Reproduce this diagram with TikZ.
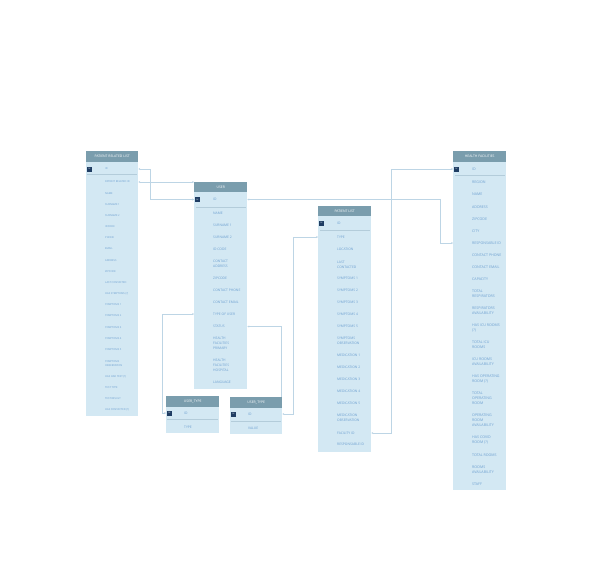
\documentclass[tikz,border=0pt]{standalone}
\usepackage{fontspec}
\setmainfont{Open Sans}
\usetikzlibrary{arrows.meta,calc}
\definecolor{headc}{HTML}{7A9DAD}
\definecolor{bodyc}{HTML}{D3E8F3}
\definecolor{txtc}{HTML}{6C9FD0}
\definecolor{pkc}{HTML}{1F3D63}
\definecolor{linec}{HTML}{BDD5E5}
\definecolor{sepc}{HTML}{B3CCDA}
\begin{document}
\begin{tikzpicture}[x=1pt,y=-1pt,
 head/.style={fill=headc,text=white,minimum width=53pt,minimum height=10.5pt,anchor=north west,inner sep=0pt,font=\fontsize{3.4}{4}\selectfont},
 tbody/.style={fill=bodyc,anchor=north west,inner sep=0pt,minimum width=53pt},
 pk/.style={fill=pkc,text=white,minimum size=5pt,inner sep=0pt,font=\fontsize{1.8}{2}\selectfont},
 field/.style={anchor=west,inner sep=0pt,text=txtc,align=left,font=\fontsize{3.35}{5}\selectfont},
 sfield/.style={field,font=\fontsize{2.6}{4.6}\selectfont},
 hfield/.style={field,font=\fontsize{3.6}{5}\selectfont},
 sep/.style={draw=sepc,line width=0.5pt},
 conn/.style={draw=linec,line width=0.6pt,arrows={Stealth[length=1.8pt,width=2pt]-Stealth[length=1.8pt,width=2pt]}},
 conn1/.style={draw=linec,line width=0.6pt,arrows={Stealth[length=1.8pt,width=2pt]-}}]
\useasboundingbox (0,0) rectangle (596,573);

% ---------- PATIENT RELATED LIST ----------
\node[tbody,minimum width=52pt,minimum height=254pt] (prlb) at (86,162) {};
\node[head,minimum width=52pt] (prlh) at (86,151) {PATIENT RELATED LIST};
\node[pk] (prlpk) at (89.5,169) {PK};
\node[sfield] (prlid) at (105,169) {ID};
\draw[sep] (87,174.5) -- (137,174.5);
\node[sfield] (prlprid) at (105,182) {PATIENT RELATED ID};
\node[sfield] (prl2) at (105,194) {NAME};
\node[sfield] (prl3) at (105,205) {SURNAME 1};
\node[sfield] (prl4) at (105,216) {SURNAME 2};
\node[sfield] (prl5) at (105,227) {IDCODE};
\node[sfield] (prl6) at (105,238) {PHONE};
\node[sfield] (prl7) at (105,249) {EMAIL};
\node[sfield] (prl8) at (105,260.5) {ADDRESS};
\node[sfield] (prl9) at (105,271.5) {ZIPCODE};
\node[sfield] (prl10) at (105,283) {LAST CONTACTED};
\node[sfield] (prl11) at (105,294) {HAS SYMPTOMS (?)};
\node[sfield] (prl12) at (105,305) {SYMPTOMS 1};
\node[sfield] (prl13) at (105,316) {SYMPTOMS 2};
\node[sfield] (prl14) at (105,328) {SYMPTOMS 3};
\node[sfield] (prl15) at (105,339) {SYMPTOMS 4};
\node[sfield] (prl16) at (105,350) {SYMPTOMS 5};
\node[sfield] (prl17) at (105,363.5) {SYMPTOMS\\OBSERVATION};
\node[sfield] (prl18) at (105,377) {HAS HAD TEST (?)};
\node[sfield] (prl19) at (105,388) {TEST TYPE};
\node[sfield] (prl20) at (105,399) {TEST RESULT};
\node[sfield] (prl21) at (105,410) {HAS CONTACTED (?)};

% ---------- USER ----------
\node[tbody,minimum height=197pt] (userb) at (194,192) {};
\node[head] (userh) at (194,181.5) {USER};
\node[pk] (userpk) at (197.5,199.5) {PK};
\node[field] (userid) at (213,199.5) {ID};
\draw[sep] (196,207) -- (246,207);
\node[field] (user2) at (213,213) {NAME};
\node[field] (user3) at (213,225) {SURNAME 1};
\node[field] (user4) at (213,237) {SURNAME 2};
\node[field] (user5) at (213,249) {ID CODE};
\node[field] (user6) at (213,263.5) {CONTACT\\ADDRESS};
\node[field] (user7) at (213,278) {ZIPCODE};
\node[field] (user8) at (213,290.5) {CONTACT PHONE};
\node[field] (user9) at (213,302) {CONTACT EMAIL};
\node[field] (usertou) at (213,314) {TYPE OF USER};
\node[field] (userstatus) at (213,326.5) {STATUS};
\node[field] (user12) at (213,343) {HEALTH\\FACILITIES\\PRIMARY};
\node[field] (user13) at (213,365) {HEALTH\\FACILITIES\\HOSPITAL};
\node[field] (user14) at (213,382) {LANGUAGE};

% ---------- USER_TYPE 1 ----------
\node[tbody,minimum height=27pt] (ut1b) at (166,406) {};
\node[head] (ut1h) at (166,396) {USER\_TYPE};
\node[pk] (ut1pk) at (169.5,413) {PK};
\node[field] (ut1id) at (184,413) {ID};
\draw[sep] (167,419.5) -- (218,419.5);
\node[field] (ut1type) at (184,427) {TYPE};

% ---------- USER_TYPE 2 ----------
\node[tbody,minimum width=52pt,minimum height=27pt] (ut2b) at (230,407) {};
\node[head,minimum width=52pt] (ut2h) at (230,397) {USER\_TYPE};
\node[pk] (ut2pk) at (233.5,414) {PK};
\node[field] (ut2id) at (248,414) {ID};
\draw[sep] (231,421) -- (281,421);
\node[field] (ut2val) at (248,428) {VALUE};

% ---------- PATIENT LIST ----------
\node[tbody,minimum height=236pt] (plb) at (318,215.5) {};
\node[head] (plh) at (318,205.5) {PATIENT LIST};
\node[pk] (plpk) at (321.5,223) {PK};
\node[field] (plid) at (337,223) {ID};
\draw[sep] (320,230.5) -- (370,230.5);
\node[field] (pltype) at (337,237) {TYPE};
\node[field] (pl3) at (337,249) {LOCATION};
\node[field] (pl4) at (337,264.5) {LAST\\CONTACTED};
\node[field] (pl5) at (337,278) {SYMPTOMS 1};
\node[field] (pl6) at (337,290) {SYMPTOMS 2};
\node[field] (pl7) at (337,302) {SYMPTOMS 3};
\node[field] (pl8) at (337,314) {SYMPTOMS 4};
\node[field] (pl9) at (337,326) {SYMPTOMS 5};
\node[field] (pl10) at (337,340.5) {SYMPTOMS\\OBSERVATION};
\node[field] (pl11) at (337,355) {MEDICATION 1};
\node[field] (pl12) at (337,367) {MEDICATION 2};
\node[field] (pl13) at (337,379) {MEDICATION 3};
\node[field] (pl14) at (337,391) {MEDICATION 4};
\node[field] (pl15) at (337,403.5) {MEDICATION 5};
\node[field] (pl16) at (337,418) {MEDICATION\\OBSERVATION};
\node[field] (plfac) at (337,433) {FACILITY ID};
\node[field] (pl18) at (337,444) {RESPONSABLE ID};

% ---------- HEALTH FACILITIES ----------
\node[tbody,minimum height=328pt] (hfb) at (453,161.5) {};
\node[head] (hfh) at (453,151) {HEALTH FACILITIES};
\node[pk] (hfpk) at (456.5,169) {PK};
\node[hfield] (hfid) at (472,169) {ID};
\draw[sep] (455,175.5) -- (505,175.5);
\node[hfield] (hf2) at (472,182) {REGION};
\node[hfield] (hf3) at (472,194.5) {NAME};
\node[hfield] (hf4) at (472,207) {ADDRESS};
\node[hfield] (hf5) at (472,219) {ZIPCODE};
\node[hfield] (hf6) at (472,231) {CITY};
\node[hfield] (hfresp) at (472,243) {RESPONSABLE ID};
\node[hfield] (hf8) at (472,255) {CONTACT PHONE};
\node[hfield] (hf9) at (472,267) {CONTACT EMAIL};
\node[hfield] (hf10) at (472,279) {CAPACITY};
\node[hfield] (hf11) at (472,293.5) {TOTAL\\RESPIRATORS};
\node[hfield] (hf12) at (472,310.5) {RESPIRATORS\\AVAILABILITY};
\node[hfield] (hf13) at (472,327.5) {HAS ICU ROOMS\\(?)};
\node[hfield] (hf14) at (472,344.5) {TOTAL ICU\\ROOMS};
\node[hfield] (hf15) at (472,361.5) {ICU ROOMS\\AVAILABILITY};
\node[hfield] (hf16) at (472,378.5) {HAS OPERATING\\ROOM (?)};
\node[hfield] (hf17) at (472,398) {TOTAL\\OPERATING\\ROOM};
\node[hfield] (hf18) at (472,420) {OPERATING\\ROOM\\AVAILABILITY};
\node[hfield] (hf19) at (472,440) {HAS COVID\\ROOM (?)};
\node[hfield] (hf20) at (472,455) {TOTAL ROOMS};
\node[hfield] (hf21) at (472,469.5) {ROOMS\\AVAILABILITY};
\node[hfield] (hf22) at (472,484) {STAFF};

% ---------- connectors ----------
\draw[conn] (prlb.east |- prlid) -- ++(11.5,0) |- (userb.west |- userid);
\draw[conn] (prlb.east |- prlprid) -- (userh.west |- prlprid);
\draw[conn] (userb.east |- userid) -- ($(hfb.west |- userid)+(-13,0)$) |- (hfb.west |- hfresp);
\draw[conn] (plb.east |- plfac) -- ++(20,0) |- (hfb.west |- hfid);
\draw[conn] (ut2b.east |- ut2id) -- ++(11,0) |- (plb.west |- pltype);
\draw[conn1] (userb.east |- userstatus) -| ($(ut2h.north east)+(-1,0)$);
\draw[conn] (ut1b.west |- ut1id) -- ++(-4,0) |- (userb.west |- usertou);
\end{tikzpicture}
\end{document}
